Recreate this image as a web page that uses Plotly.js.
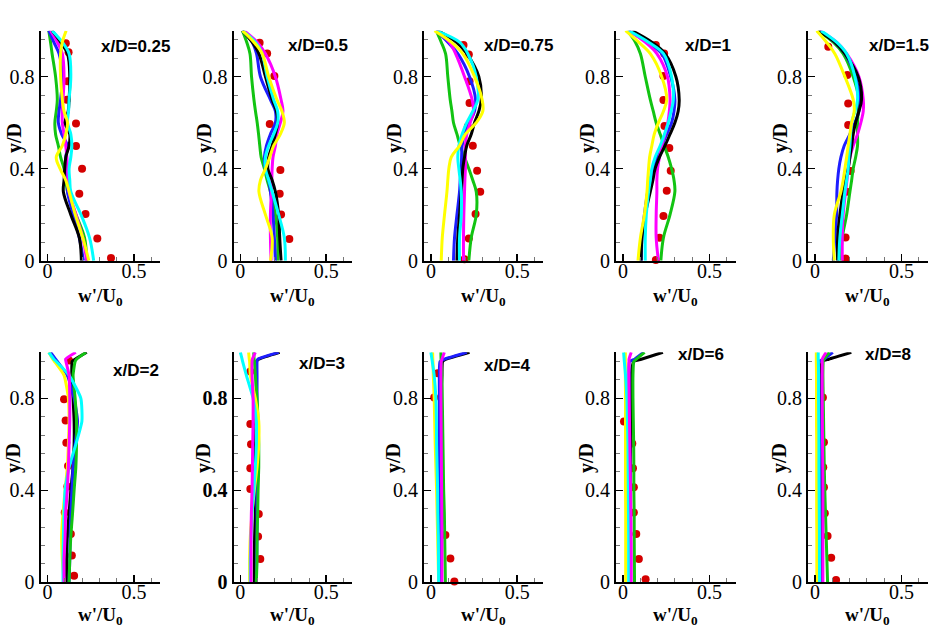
<!DOCTYPE html>
<html>
<head>
<meta charset="utf-8">
<script src="https://cdn.plot.ly/plotly-3.0.1.min.js"></script>
<style>html,body{margin:0;padding:0;background:#fff;}#chart{width:942px;height:628px;}</style>
</head>
<body>
<div id="chart"></div>
<script>
// ---------- DATA ----------
const panelLabels = ['x/D=0.25','x/D=0.5','x/D=0.75','x/D=1','x/D=1.5','x/D=2','x/D=3','x/D=4','x/D=6','x/D=8'];
const xTitle = "w'/U<sub>0</sub>";
const yTitle = 'y/D';

// y levels used by the line series (row 1 and row 2)
const yRow1 = [1, 0.95, 0.9, 0.8, 0.7, 0.65, 0.6, 0.55, 0.5, 0.45, 0.4, 0.35, 0.3, 0.2, 0.1, 0];
const yRow2 = [1, 0.97, 0.96, 0.9, 0.8, 0.7, 0.6, 0.5, 0.4, 0.3, 0.2, 0.1, 0];

// x/D = 0.25
const P1_green   = [0.008,0.018,0.027,0.047,0.057,0.051,0.043,0.047,0.063,0.076,0.096,0.106,0.116,0.165,0.214,0.227];
const P1_blue    = [0.008,0.037,0.067,0.086,0.076,0.067,0.063,0.082,0.116,0.106,0.112,0.116,0.116,0.149,0.184,0.208];
const P1_magenta = [0.018,0.057,0.086,0.096,0.090,0.086,0.086,0.096,0.106,0.112,0.116,0.120,0.125,0.165,0.204,0.227];
const P1_black   = [0.027,0.076,0.116,0.129,0.125,0.120,0.102,0.129,0.125,0.106,0.100,0.096,0.092,0.135,0.184,0.196];
const P1_cyan    = [0.027,0.086,0.125,0.135,0.125,0.122,0.116,0.135,0.141,0.135,0.125,0.129,0.135,0.194,0.243,0.267];
const P1_yellow  = [0.108,0.086,0.076,0.076,0.086,0.096,0.116,0.106,0.086,0.051,0.073,0.106,0.125,0.161,0.204,0.239];
const P1_expX = [0.106,0.122,0.116,0.112,0.165,0.165,0.200,0.184,0.220,0.288,0.367];
const P1_expY = [0.945,0.906,0.780,0.700,0.597,0.499,0.400,0.291,0.203,0.097,0.012];

// x/D = 0.5
const P2_green   = [0.012,0.037,0.056,0.065,0.079,0.088,0.098,0.106,0.113,0.121,0.140,0.156,0.175,0.204,0.217,0.217];
const P2_blue    = [0.012,0.069,0.094,0.117,0.175,0.204,0.204,0.175,0.152,0.140,0.146,0.165,0.175,0.190,0.198,0.204];
const P2_magenta = [0.021,0.098,0.146,0.204,0.237,0.248,0.233,0.213,0.204,0.190,0.185,0.183,0.181,0.175,0.175,0.179];
const P2_black   = [0.012,0.069,0.108,0.146,0.185,0.210,0.217,0.204,0.185,0.165,0.160,0.185,0.204,0.223,0.229,0.237];
const P2_cyan    = [0.012,0.088,0.127,0.156,0.194,0.217,0.217,0.194,0.165,0.146,0.146,0.165,0.185,0.223,0.256,0.262];
const P2_yellow  = [0.012,0.079,0.127,0.165,0.213,0.242,0.256,0.233,0.194,0.171,0.146,0.117,0.108,0.146,0.185,0.175];
const P2_expX = [0.112,0.156,0.198,0.171,0.233,0.229,0.237,0.285];
const P2_expY = [0.948,0.901,0.803,0.594,0.394,0.291,0.201,0.094];

// x/D = 0.75
const P3_green   = [0.031,0.060,0.085,0.098,0.112,0.122,0.131,0.151,0.170,0.195,0.220,0.243,0.263,0.263,0.234,0.220];
const P3_blue    = [0.031,0.098,0.156,0.224,0.259,0.253,0.224,0.195,0.181,0.178,0.176,0.170,0.166,0.151,0.137,0.131];
const P3_magenta = [0.031,0.108,0.143,0.195,0.239,0.247,0.228,0.208,0.200,0.200,0.200,0.197,0.195,0.191,0.189,0.189];
const P3_black   = [0.041,0.147,0.208,0.278,0.292,0.278,0.253,0.234,0.208,0.195,0.185,0.181,0.176,0.166,0.156,0.151];
const P3_cyan    = [0.031,0.166,0.214,0.263,0.272,0.243,0.208,0.181,0.162,0.156,0.162,0.170,0.176,0.176,0.166,0.166];
const P3_yellow  = [0.021,0.118,0.185,0.253,0.297,0.301,0.263,0.200,0.166,0.118,0.104,0.098,0.093,0.079,0.066,0.060];
const P3_expX = [0.189,0.220,0.224,0.224,0.214,0.243,0.268,0.286,0.259,0.220,0.195];
const P3_expY = [0.938,0.896,0.780,0.686,0.583,0.500,0.391,0.300,0.203,0.097,0.006];

// x/D = 1
const P4_green   = [0.025,0.072,0.101,0.129,0.158,0.175,0.192,0.215,0.238,0.262,0.281,0.295,0.300,0.272,0.234,0.219];
const P4_blue    = [0.034,0.139,0.224,0.276,0.300,0.295,0.281,0.253,0.224,0.200,0.177,0.158,0.143,0.124,0.110,0.106];
const P4_magenta = [0.034,0.129,0.196,0.257,0.272,0.268,0.259,0.243,0.224,0.211,0.200,0.196,0.196,0.192,0.192,0.205];
const P4_black   = [0.053,0.167,0.243,0.306,0.325,0.319,0.300,0.272,0.243,0.211,0.186,0.173,0.158,0.129,0.110,0.105];
const P4_cyan    = [0.034,0.148,0.234,0.281,0.291,0.278,0.262,0.240,0.215,0.186,0.167,0.158,0.148,0.135,0.129,0.129];
const P4_yellow  = [0.015,0.091,0.158,0.224,0.253,0.234,0.205,0.181,0.167,0.154,0.148,0.143,0.139,0.124,0.101,0.087];
const P4_expX = [0.190,0.238,0.234,0.234,0.240,0.268,0.276,0.253,0.234,0.211,0.190];
const P4_expY = [0.938,0.901,0.803,0.699,0.586,0.490,0.391,0.304,0.194,0.100,0.003];

// x/D = 1.5
const P5_green   = [0.019,0.106,0.163,0.221,0.254,0.250,0.246,0.246,0.246,0.235,0.221,0.212,0.202,0.183,0.158,0.150];
const P5_blue    = [0.029,0.115,0.173,0.235,0.260,0.254,0.231,0.202,0.169,0.150,0.138,0.131,0.127,0.125,0.115,0.106];
const P5_magenta = [0.029,0.125,0.183,0.254,0.279,0.279,0.265,0.246,0.221,0.202,0.192,0.185,0.177,0.163,0.158,0.158];
const P5_black   = [0.019,0.115,0.173,0.250,0.269,0.254,0.235,0.221,0.212,0.202,0.192,0.177,0.163,0.144,0.131,0.131];
const P5_cyan    = [0.035,0.125,0.183,0.231,0.246,0.231,0.212,0.206,0.202,0.196,0.192,0.183,0.173,0.158,0.144,0.138];
const P5_yellow  = [0.010,0.067,0.115,0.173,0.221,0.227,0.212,0.202,0.192,0.183,0.173,0.163,0.150,0.112,0.106,0.112];
const P5_expX = [0.077,0.187,0.192,0.192,0.206,0.183,0.177,0.177];
const P5_expY = [0.930,0.807,0.684,0.590,0.390,0.300,0.101,0.010];

// x/D = 2
const P6_green   = [0.223,0.168,0.160,0.148,0.160,0.168,0.168,0.164,0.154,0.145,0.135,0.129,0.125];
const P6_blue    = [0.018,0.047,0.057,0.115,0.154,0.174,0.160,0.148,0.141,0.135,0.131,0.129,0.125];
const P6_magenta = [0.164,0.105,0.107,0.125,0.129,0.129,0.125,0.121,0.115,0.105,0.102,0.096,0.096];
const P6_black   = [0.227,0.160,0.143,0.141,0.148,0.154,0.154,0.148,0.135,0.125,0.115,0.111,0.111];
const P6_cyan    = [0.008,0.037,0.051,0.125,0.193,0.199,0.164,0.125,0.102,0.096,0.092,0.090,0.090];
const P6_yellow  = [0.008,0.031,0.041,0.096,0.121,0.125,0.121,0.115,0.102,0.090,0.082,0.086,0.096];
const P6_expX = [0.125,0.096,0.105,0.109,0.119,0.115,0.100,0.135,0.141,0.154];
const P6_expY = [0.964,0.796,0.703,0.607,0.506,0.416,0.303,0.210,0.116,0.029];

// x/D = 3
const P7_green   = [0.078,0.080,0.082,0.087,0.097,0.103,0.107,0.107,0.103,0.101,0.097,0.097,0.093];
const P7_blue    = [0.223,0.101,0.097,0.097,0.097,0.097,0.095,0.093,0.095,0.097,0.097,0.095,0.093];
const P7_magenta = [0.087,0.070,0.068,0.068,0.074,0.074,0.072,0.070,0.068,0.064,0.062,0.062,0.062];
const P7_black   = [0.229,0.107,0.093,0.093,0.093,0.091,0.089,0.087,0.087,0.087,0.083,0.081,0.081];
const P7_cyan    = [0.000,0.010,0.013,0.035,0.074,0.093,0.093,0.087,0.078,0.068,0.062,0.058,0.058];
const P7_yellow  = [0.048,0.052,0.054,0.058,0.087,0.107,0.107,0.097,0.081,0.068,0.058,0.054,0.054];
const P7_expX = [0.058,0.058,0.062,0.058,0.058,0.107,0.103,0.116];
const P7_expY = [0.916,0.688,0.600,0.496,0.406,0.297,0.199,0.101];

// x/D = 4
const P8_green   = [0.058,0.059,0.060,0.064,0.066,0.068,0.070,0.072,0.074,0.078,0.080,0.082,0.084];
const P8_blue    = [0.208,0.078,0.053,0.049,0.049,0.049,0.050,0.050,0.051,0.051,0.052,0.052,0.053];
const P8_magenta = [0.078,0.064,0.060,0.058,0.058,0.059,0.060,0.061,0.062,0.063,0.064,0.064,0.064];
const P8_black   = [0.224,0.088,0.068,0.064,0.058,0.058,0.058,0.058,0.058,0.058,0.058,0.058,0.058];
const P8_cyan    = [0.000,0.006,0.008,0.019,0.029,0.032,0.033,0.036,0.039,0.040,0.043,0.044,0.045];
const P8_yellow  = [0.010,0.011,0.012,0.014,0.019,0.022,0.025,0.029,0.033,0.036,0.039,0.042,0.045];
const P8_expX = [0.039,0.019,0.058,0.084,0.113,0.136];
const P8_expY = [0.909,0.804,0.404,0.206,0.104,0.004];

// x/D = 6
const P9_green   = [0.125,0.077,0.063,0.058,0.058,0.060,0.062,0.063,0.063,0.065,0.065,0.066,0.067];
const P9_blue    = [0.119,0.067,0.038,0.035,0.035,0.036,0.038,0.040,0.042,0.042,0.042,0.043,0.044];
const P9_magenta = [0.048,0.035,0.035,0.035,0.036,0.038,0.040,0.042,0.044,0.046,0.047,0.048,0.048];
const P9_black   = [0.231,0.106,0.062,0.048,0.048,0.046,0.044,0.043,0.042,0.042,0.042,0.042,0.042];
const P9_cyan    = [0.004,0.007,0.008,0.015,0.023,0.026,0.029,0.030,0.031,0.032,0.033,0.033,0.033];
const P9_yellow  = [0.014,0.014,0.014,0.014,0.015,0.015,0.015,0.015,0.015,0.016,0.016,0.016,0.016];
const P9_expX = [0.006,0.054,0.058,0.063,0.063,0.077,0.092,0.131];
const P9_expY = [0.699,0.604,0.496,0.413,0.304,0.210,0.101,0.013];

// x/D = 8
const P10_green   = [0.084,0.052,0.048,0.046,0.048,0.050,0.052,0.054,0.057,0.061,0.065,0.069,0.073];
const P10_blue    = [0.103,0.052,0.023,0.023,0.024,0.025,0.026,0.027,0.028,0.029,0.030,0.030,0.031];
const P10_magenta = [0.065,0.042,0.042,0.042,0.042,0.043,0.044,0.045,0.046,0.046,0.046,0.046,0.046];
const P10_black   = [0.210,0.080,0.042,0.032,0.032,0.032,0.033,0.033,0.034,0.035,0.036,0.036,0.036];
const P10_cyan    = [0.019,0.019,0.020,0.021,0.021,0.022,0.023,0.023,0.024,0.025,0.026,0.026,0.027];
const P10_yellow  = [0.008,0.008,0.008,0.009,0.009,0.009,0.010,0.010,0.010,0.010,0.011,0.011,0.011];
const P10_expX = [0.046,0.052,0.048,0.052,0.057,0.073,0.094,0.122];
const P10_expY = [0.804,0.609,0.500,0.413,0.300,0.201,0.107,0.010];

// ---------- TABLES built from the arrays ----------
const orderRow1 = ['green','blue','magenta','black','cyan','yellow'];
const orderRow2 = ['black','blue','green','yellow','cyan','magenta'];
const seriesColor = {green:'#12c412', blue:'#1e1eff', magenta:'#ff00ff', black:'#000000', cyan:'#00ffff', yellow:'#ffff00'};
const panels = [
  {green:P1_green, blue:P1_blue, magenta:P1_magenta, black:P1_black, cyan:P1_cyan, yellow:P1_yellow, ex:P1_expX, ey:P1_expY},
  {green:P2_green, blue:P2_blue, magenta:P2_magenta, black:P2_black, cyan:P2_cyan, yellow:P2_yellow, ex:P2_expX, ey:P2_expY},
  {green:P3_green, blue:P3_blue, magenta:P3_magenta, black:P3_black, cyan:P3_cyan, yellow:P3_yellow, ex:P3_expX, ey:P3_expY},
  {green:P4_green, blue:P4_blue, magenta:P4_magenta, black:P4_black, cyan:P4_cyan, yellow:P4_yellow, ex:P4_expX, ey:P4_expY},
  {green:P5_green, blue:P5_blue, magenta:P5_magenta, black:P5_black, cyan:P5_cyan, yellow:P5_yellow, ex:P5_expX, ey:P5_expY},
  {green:P6_green, blue:P6_blue, magenta:P6_magenta, black:P6_black, cyan:P6_cyan, yellow:P6_yellow, ex:P6_expX, ey:P6_expY},
  {green:P7_green, blue:P7_blue, magenta:P7_magenta, black:P7_black, cyan:P7_cyan, yellow:P7_yellow, ex:P7_expX, ey:P7_expY},
  {green:P8_green, blue:P8_blue, magenta:P8_magenta, black:P8_black, cyan:P8_cyan, yellow:P8_yellow, ex:P8_expX, ey:P8_expY},
  {green:P9_green, blue:P9_blue, magenta:P9_magenta, black:P9_black, cyan:P9_cyan, yellow:P9_yellow, ex:P9_expX, ey:P9_expY},
  {green:P10_green, blue:P10_blue, magenta:P10_magenta, black:P10_black, cyan:P10_cyan, yellow:P10_yellow, ex:P10_expX, ey:P10_expY}
];

// ---------- LAYOUT GEOMETRY (pixels) ----------
const W = 942, H = 628;
const colPx = [[40.5,160],[233.5,352],[424,543],[616,735.5],[808,927.5]];
const rowPx = [[30.7,260.7],[352.3,582.3]];
const yTitleX = [14, 204, 394, 587, 780];
const yTitleY = [138, 458];
const xTitleY = [297, 616];
const labelPos = [[99,46.7],[286,45.7],[482,46],[683,46],[867,46],[111,370.7],[297,363],[482,365],[676,354],[863,354]];

const serif = 'Liberation Serif';
const sans = 'Liberation Sans';

const traces = [];
const layout = {
  width: W, height: H,
  margin: {l:0, r:0, t:0, b:0, autoexpand:false},
  paper_bgcolor: '#ffffff', plot_bgcolor: '#ffffff',
  showlegend: false,
  font: {family: serif, color: '#000'},
  annotations: []
};

panels.forEach((p, i) => {
  const r = Math.floor(i / 5), c = i % 5;
  const n = i === 0 ? '' : String(i + 1);
  const xa = 'x' + n, ya = 'y' + n;
  const yLev = r === 0 ? yRow1 : yRow2;
  const order = r === 0 ? orderRow1 : orderRow2;

  // experimental points (underneath the lines)
  traces.push({
    type: 'scatter', mode: 'markers', x: p.ex, y: p.ey, xaxis: xa, yaxis: ya,
    marker: {color: '#d40000', size: 8, line: {width: 0}},
    cliponaxis: false, hoverinfo: 'skip'
  });
  order.forEach(s => {
    traces.push({
      type: 'scatter', mode: 'lines', x: p[s], y: yLev, xaxis: xa, yaxis: ya,
      line: {color: seriesColor[s], width: 3, shape: 'spline', smoothing: r === 0 ? 1 : 0.5},
      hoverinfo: 'skip'
    });
  });

  const tf = {family: serif, size: 20, color: '#000'};
  if (i === 6) tf.weight = 'bold';

  layout['xaxis' + n] = {
    domain: [colPx[c][0] / W, colPx[c][1] / W], anchor: ya,
    range: [-0.04, 0.65], showgrid: false, zeroline: false,
    showline: true, linecolor: '#000', linewidth: 2,
    ticks: 'inside', ticklen: 7, tickwidth: 1.5, tickcolor: '#000',
    tick0: 0, dtick: 0.5, ticklabelstandoff: -9,
    tickfont: {family: serif, size: 20, color: '#000'},
    minor: {dtick: 0.1, tick0: 0, ticks: 'inside', ticklen: 4, tickwidth: 1, tickcolor: '#777', showgrid: false},
    fixedrange: true
  };
  layout['yaxis' + n] = {
    domain: [1 - rowPx[r][1] / H, 1 - rowPx[r][0] / H], anchor: xa,
    range: [0, 1], showgrid: false, zeroline: false,
    showline: true, linecolor: '#000', linewidth: 2,
    ticks: 'inside', ticklen: 7, tickwidth: 1.5, tickcolor: '#000',
    tick0: 0, dtick: 0.4,
    tickfont: tf,
    minor: {dtick: 0.08, tick0: 0, ticks: 'inside', ticklen: 4, tickwidth: 1, tickcolor: '#777', showgrid: false},
    fixedrange: true
  };

  // axis titles
  layout.annotations.push({
    xref: 'paper', yref: 'paper', x: yTitleX[c] / W, y: 1 - yTitleY[r] / H,
    text: '<b>' + yTitle + '</b>', textangle: -90, showarrow: false,
    xanchor: 'center', yanchor: 'middle',
    font: {family: serif, size: 20, color: '#000'}
  });
  layout.annotations.push({
    xref: 'paper', yref: 'paper', x: ((colPx[c][0] + colPx[c][1]) / 2) / W, y: 1 - xTitleY[r] / H,
    text: '<b>' + xTitle + '</b>', showarrow: false,
    xanchor: 'center', yanchor: 'middle',
    font: {family: serif, size: 19, color: '#000'}
  });
  // panel label
  layout.annotations.push({
    xref: 'paper', yref: 'paper', x: labelPos[i][0] / W, y: 1 - labelPos[i][1] / H,
    text: '<b>' + panelLabels[i] + '</b>', showarrow: false,
    xanchor: 'left', yanchor: 'middle',
    font: {family: sans, size: 17, color: '#000'}
  });
});

Plotly.newPlot('chart', traces, layout, {staticPlot: true, displayModeBar: false});
</script>
</body>
</html>
